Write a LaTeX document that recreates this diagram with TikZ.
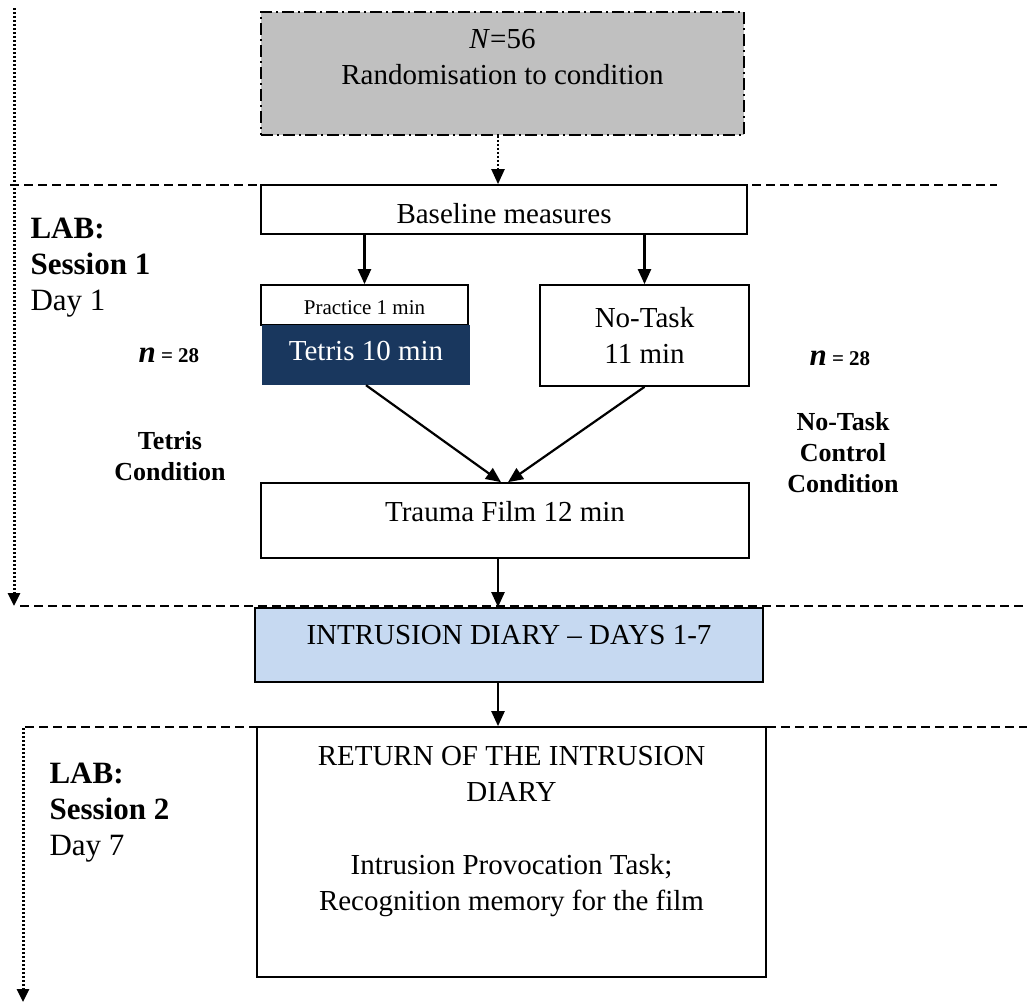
\documentclass[tikz,border=0pt]{standalone}
\usepackage{fontspec}
\setmainfont{Liberation Serif}
\usetikzlibrary{arrows.meta}
\definecolor{tetrisblue}{RGB}{25,55,94}
\definecolor{diaryblue}{RGB}{198,217,241}
\definecolor{randgray}{RGB}{192,192,192}

\begin{document}
\begin{tikzpicture}[x=1pt, y=-1pt,
    every node/.style={font=\fontsize{29}{36}\selectfont},
    box/.style={draw, line width=1.7pt, inner sep=0pt},
    flow/.style={-{Triangle[width=13pt,length=15pt]}, line width=2.2pt},
    sep/.style={line width=1.5pt, dash pattern=on 9pt off 5pt},
    timeline/.style={line width=3pt, dash pattern=on 2pt off 2pt, -{Triangle[width=12pt,length=13pt]}},
    side/.style={font=\fontsize{31}{36}\selectfont, align=left, anchor=base west},
    cond/.style={font=\bfseries\fontsize{26}{31}\selectfont, align=center, anchor=base},
    count/.style={font=\bfseries\fontsize{21}{25}\selectfont, anchor=base west}]
  \useasboundingbox (0,0) rectangle (1027,1002);

  % 分隔线
  \draw[sep] (10,185) -- (997,185);
  \draw[sep] (20,606) -- (1027,606);
  \draw[sep] (25,727) -- (1027,727);

  % 时间线
  \draw[timeline] (14,8) -- (14,606);
  \draw[timeline] (23,728) -- (23,1002);

  % 随机分组
  \node[box, dash pattern=on 12pt off 4pt on 2pt off 4pt, fill=randgray,
        minimum width=483pt, minimum height=123pt] (rand) at (502.5,73.5) {};
  \node[align=center, anchor=north] (randtxt) at ([yshift=-15pt]rand.north)
        {\textit{N}=56\\Randomisation to condition};

  % 方框
  \node[box, fill=white, minimum width=486pt, text height=38pt, text depth=11pt] (base) at (504,209.5) {Baseline measures};
  \node[box, minimum width=207pt, text height=29pt, text depth=11pt,
        font=\fontsize{21}{25}\selectfont] (prac) at (364.5,305) {Practice 1 min};
  \node[fill=tetrisblue, text=white, inner sep=0pt, minimum width=208pt,
        text height=35pt, text depth=25pt] (tetris) at (366,355) {Tetris 10 min};
  \node[box, align=center, minimum width=209pt, minimum height=101pt] (notask) at (644.5,335.5) {No-Task\\11 min};
  \node[box, minimum width=488pt, text height=38pt, text depth=37pt] (film) at (505,520.5) {Trauma Film 12 min};
  \node[box, fill=diaryblue, minimum width=508pt, text height=36pt, text depth=38pt] (diary) at (509,645) {INTRUSION DIARY -- DAYS 1-7};
  \node[box, fill=white, minimum width=509pt, minimum height=250pt] (ret) at (511.5,852) {};
  \node[align=center, anchor=north] (rettxt) at ([yshift=-17pt]ret.north)
        {RETURN OF THE INTRUSION\\DIARY\\[37pt]Intrusion Provocation Task;\\Recognition memory for the film};

  % 箭头
  \coordinate (spine) at (498,0);
  \draw[flow, dash pattern=on 2pt off 2pt] (rand.south -| spine) -- (base.north -| spine);
  \draw[flow] (base.south -| prac.north) -- (prac.north);
  \draw[flow] (base.south -| notask.north) -- (notask.north);
  \draw[flow] (tetris.south) -- ([xshift=-4pt]film.north);
  \draw[flow] (notask.south) -- ([xshift=3pt]film.north);
  \draw[flow] (film.south -| spine) -- (diary.north -| spine);
  \draw[flow] (diary.south -| spine) -- (ret.north -| spine);

  % 标签
  \node[side] (lab1) at (27,310) {\textbf{LAB:}\\\textbf{Session 1}\\Day 1};
  \node[side] (lab2) at (46,855) {\textbf{LAB:}\\\textbf{Session 2}\\Day 7};
  \node[count] (nleft) at (135,362) {{\fontsize{31}{31}\selectfont\textit{n}} = 28};
  \node[count] (nright) at (806,365) {{\fontsize{31}{31}\selectfont\textit{n}} = 28};
  \node[cond] (tcond) at (170,480) {Tetris\\Condition};
  \node[cond] (ncond) at (843,492) {No-Task\\Control\\Condition};
\end{tikzpicture}
\end{document}
